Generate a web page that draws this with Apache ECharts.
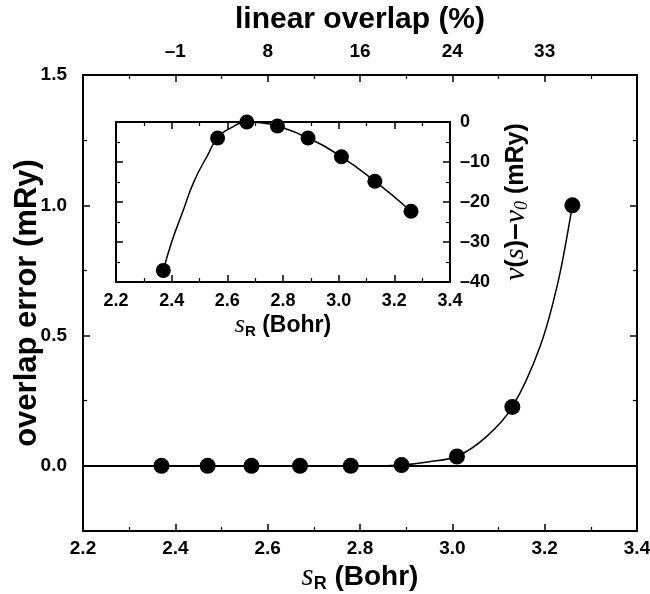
<!DOCTYPE html>
<html>
<head>
<meta charset="utf-8">
<script src="https://cdn.jsdelivr.net/npm/echarts@6/dist/echarts.min.js"></script>
<style>
  html, body { margin: 0; padding: 0; background: #fff; }
  #chart { width: 650px; height: 594px; }
</style>
</head>
<body>
<div id="chart"></div>
<script>
// Overlap error versus sphere radius (main panel)
const radius = [2.37, 2.47, 2.565, 2.67, 2.78, 2.89, 3.01, 3.13, 3.26];
const overlapError = [0, 0, 0, 0, 0, 0.003, 0.036, 0.226, 1.0];
// Fitted curve through the rising part
const fitRadius = [2.84, 2.89, 2.95, 3.01, 3.074, 3.13, 3.19, 3.23, 3.26];
const fitError = [0, 0.003, 0.016, 0.036, 0.112, 0.226, 0.458, 0.714, 1.0];

// Top axis: linear overlap (%) at the major radius ticks
const overlapTickRadius = [2.4, 2.6, 2.8, 3.0, 3.2];
const overlapTickLabels = ['\u20131', '8', '16', '24', '33'];

// Inset: v(s) - v0 versus radius
const insetRadius = [2.37, 2.565, 2.67, 2.78, 2.89, 3.01, 3.13, 3.26];
const insetDelta = [-37.1, -4.0, 0, -1.0, -4.0, -8.7, -14.8, -22.3];
const insetFitRadius = [2.37, 2.40, 2.44, 2.48, 2.53, 2.565, 2.62, 2.67, 2.72, 2.78, 2.89, 3.01, 3.13, 3.26];
const insetFitDelta = [-37.1, -30.0, -22.4, -14.9, -8.2, -4.0, -1.2, 0, -0.2, -1.0, -4.0, -8.7, -14.8, -22.3];

// Main y-axis tick positions
const mainYMajor = [0, 0.5, 1.0, 1.5];
const mainYMinor = [-0.25, 0.25, 0.75, 1.25];

const SANS = '"Liberation Sans", Arial, Helvetica, sans-serif';
const SERIF = '"Liberation Serif", "DejaVu Serif", serif';
const zip = (a, b) => a.map((v, i) => [v, b[i]]);
const dash = v => String(v).replace('-', '\u2013');

const lineBlack = { color: '#000', width: 2 };
const tickLabel = (size) => ({ color: '#000', fontFamily: SANS, fontWeight: 'bold', fontSize: size });

const chart = echarts.init(document.getElementById('chart'), null, { renderer: 'canvas' });

const xBase = (gridIndex, extra) => Object.assign({
  type: 'value', gridIndex, min: 2.2, max: 3.4, interval: 0.2,
  axisLine: { show: true, onZero: false, lineStyle: lineBlack },
  axisTick: { show: true, inside: true, length: 7, lineStyle: { color: '#000', width: 1.5 } },
  minorTick: { show: true, splitNumber: 2, length: 4, lineStyle: { color: '#000', width: 1.2 } },
  splitLine: { show: false },
  nameMoveOverlap: false
}, extra);

const option = {
  animation: false,
  backgroundColor: '#fff',
  grid: [
    { left: 83, right: 13, top: 75, bottom: 63, outerBoundsMode: 'none', containLabel: false },
    { left: 116, width: 334, top: 122, height: 160, outerBoundsMode: 'none', containLabel: false }
  ],
  xAxis: [
    xBase(0, {
      position: 'bottom',
      axisLabel: Object.assign(tickLabel(19), { margin: 8, formatter: v => v.toFixed(1) }),
      name: '{s|s}{sub|R}{b| (Bohr)}',
      nameLocation: 'middle', nameGap: 30,
      nameTextStyle: {
        rich: {
          s: { fontFamily: SERIF, fontStyle: 'italic', fontSize: 31, color: '#000' },
          sub: { fontFamily: SANS, fontWeight: 'bold', fontSize: 18, color: '#000', verticalAlign: 'bottom', padding: [14, 0, 0, 0] },
          b: { fontFamily: SANS, fontWeight: 'bold', fontSize: 28, color: '#000' }
        }
      }
    }),
    xBase(0, {
      position: 'top',
      axisLabel: Object.assign(tickLabel(19), {
        margin: 14,
        formatter: v => {
          const i = overlapTickRadius.findIndex(r => Math.abs(r - v) < 1e-6);
          return i >= 0 ? overlapTickLabels[i] : '';
        }
      }),
      name: 'linear overlap (%)',
      nameLocation: 'middle', nameGap: 40,
      nameTextStyle: { fontFamily: SANS, fontWeight: 'bold', fontSize: 30, color: '#000' }
    }),
    xBase(1, {
      position: 'bottom',
      axisLabel: Object.assign(tickLabel(18), { margin: 10, formatter: v => v.toFixed(1) }),
      name: '{s|s}{sub|R}{b| (Bohr)}',
      nameLocation: 'middle', nameGap: 30,
      nameTextStyle: {
        rich: {
          s: { fontFamily: SERIF, fontStyle: 'italic', fontSize: 26, color: '#000' },
          sub: { fontFamily: SANS, fontWeight: 'bold', fontSize: 15, color: '#000', verticalAlign: 'bottom', padding: [12, 0, 0, 0] },
          b: { fontFamily: SANS, fontWeight: 'bold', fontSize: 23, color: '#000' }
        }
      }
    }),
    xBase(1, { position: 'top', axisLabel: { show: false } })
  ],
  yAxis: [
    // main panel, left: major ticks + labels
    {
      type: 'value', gridIndex: 0, min: -0.25, max: 1.5, position: 'left',
      axisLine: { show: true, onZero: false, lineStyle: lineBlack },
      axisTick: { show: true, inside: true, length: 7, customValues: mainYMajor, lineStyle: { color: '#000', width: 1.5 } },
      axisLabel: Object.assign(tickLabel(19), { margin: 16, customValues: mainYMajor, formatter: v => v.toFixed(1) }),
      splitLine: { show: false },
      name: 'overlap error (mRy)',
      nameLocation: 'middle', nameGap: 40, nameRotate: 90, nameMoveOverlap: false,
      nameTextStyle: { fontFamily: SANS, fontWeight: 'bold', fontSize: 31, color: '#000' }
    },
    // main panel, left: minor ticks
    {
      type: 'value', gridIndex: 0, min: -0.25, max: 1.5, position: 'left',
      axisLine: { show: false },
      axisTick: { show: true, inside: true, length: 4, customValues: mainYMinor, lineStyle: { color: '#000', width: 1.2 } },
      axisLabel: { show: false }, splitLine: { show: false }
    },
    // main panel, right mirror
    {
      type: 'value', gridIndex: 0, min: -0.25, max: 1.5, position: 'right',
      axisLine: { show: true, onZero: false, lineStyle: lineBlack },
      axisTick: { show: true, inside: true, length: 7, customValues: mainYMajor, lineStyle: { color: '#000', width: 1.5 } },
      axisLabel: { show: false }, splitLine: { show: false }
    },
    {
      type: 'value', gridIndex: 0, min: -0.25, max: 1.5, position: 'right',
      axisLine: { show: false },
      axisTick: { show: true, inside: true, length: 4, customValues: mainYMinor, lineStyle: { color: '#000', width: 1.2 } },
      axisLabel: { show: false }, splitLine: { show: false }
    },
    // inset, right: labels and name
    {
      type: 'value', gridIndex: 1, min: -40, max: 0, interval: 10, position: 'right',
      axisLine: { show: true, onZero: false, lineStyle: lineBlack },
      axisTick: { show: true, inside: true, length: 7, lineStyle: { color: '#000', width: 1.5 } },
      minorTick: { show: true, splitNumber: 2, length: 4, lineStyle: { color: '#000', width: 1.2 } },
      axisLabel: Object.assign(tickLabel(18), { margin: 10, formatter: v => dash(v) }),
      splitLine: { show: false },
      name: '{n|\u03bd}{p|(}{s|s}{p|)}{d|\u2013}{n|\u03bd}{sub|0}{p| (mRy)}',
      nameLocation: 'middle', nameGap: 51, nameRotate: 90, nameMoveOverlap: false,
      nameTextStyle: {
        rich: {
          n: { fontFamily: SERIF, fontStyle: 'italic', fontSize: 30, color: '#000' },
          s: { fontFamily: SERIF, fontStyle: 'italic', fontSize: 28, color: '#000' },
          p: { fontFamily: SANS, fontWeight: 'bold', fontSize: 25, color: '#000' },
          d: { fontFamily: SANS, fontWeight: 'bold', fontSize: 30, color: '#000' },
          sub: { fontFamily: SERIF, fontStyle: 'italic', fontSize: 18, color: '#000', verticalAlign: 'bottom', padding: [12, 0, 0, 0] }
        }
      }
    },
    // inset, left mirror
    {
      type: 'value', gridIndex: 1, min: -40, max: 0, interval: 10, position: 'left',
      axisLine: { show: true, onZero: false, lineStyle: lineBlack },
      axisTick: { show: true, inside: true, length: 7, lineStyle: { color: '#000', width: 1.5 } },
      minorTick: { show: true, splitNumber: 2, length: 4, lineStyle: { color: '#000', width: 1.2 } },
      axisLabel: { show: false }, splitLine: { show: false }
    }
  ],
  series: [
    {
      name: 'fit', type: 'line', xAxisIndex: 0, yAxisIndex: 0,
      data: zip(fitRadius, fitError), smooth: 0.3,
      showSymbol: false, symbol: 'none',
      lineStyle: { color: '#000', width: 1.5 },
      markLine: {
        silent: true, symbol: 'none', label: { show: false },
        lineStyle: { color: '#000', width: 2, type: 'solid' },
        data: [{ yAxis: 0 }]
      },
      z: 3
    },
    {
      name: 'overlap error', type: 'scatter', xAxisIndex: 0, yAxisIndex: 0,
      data: zip(radius, overlapError), symbol: 'circle', symbolSize: 16,
      itemStyle: { color: '#000', opacity: 1 }, z: 5
    },
    {
      name: 'inset fit', type: 'line', xAxisIndex: 2, yAxisIndex: 4,
      data: zip(insetFitRadius, insetFitDelta), smooth: 0.5,
      showSymbol: false, symbol: 'none',
      lineStyle: { color: '#000', width: 1.5 }, z: 3
    },
    {
      name: 'inset points', type: 'scatter', xAxisIndex: 2, yAxisIndex: 4,
      data: zip(insetRadius, insetDelta), symbol: 'circle', symbolSize: 15,
      itemStyle: { color: '#000', opacity: 1 }, clip: false, z: 5
    }
  ]
};

chart.setOption(option);
</script>
</body>
</html>
